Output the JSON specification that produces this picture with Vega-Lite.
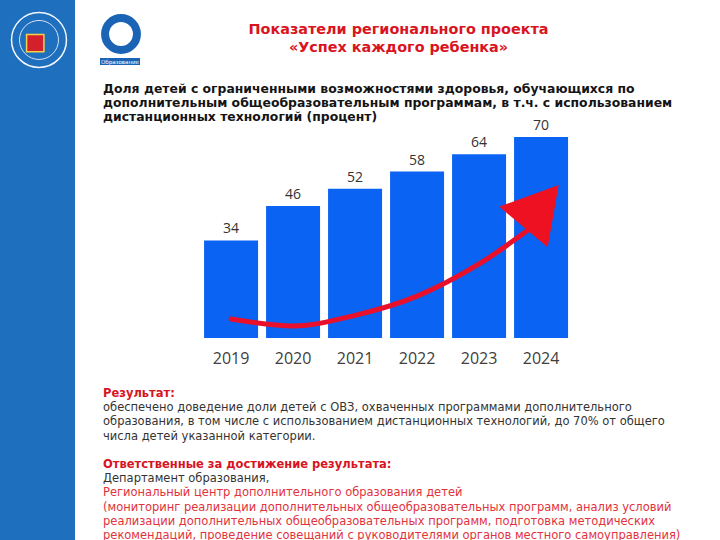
{
  "$schema": "https://vega.github.io/schema/vega-lite/v6.json",
  "padding": 0,
  "background": "white",
  "config": {"view": {"stroke": null}, "font": "DejaVu Sans"},
  "bounds": "flush",
  "spacing": 28,
  "hconcat": [
    {
      "width": 75,
      "height": 540,
      "view": {"fill": "#1f6fbf", "stroke": null},
      "data": {"values": [{"item": "seal"}]},
      "layer": [
        {
          "mark": {"type": "point", "shape": "circle", "size": 3019, "filled": false, "stroke": "white", "strokeWidth": 1.5, "opacity": 0.95},
          "encoding": {
            "x": {"datum": 0.52, "type": "quantitative", "scale": {"domain": [0, 1]}, "axis": null},
            "y": {"datum": 0.074, "type": "quantitative", "scale": {"domain": [0, 1], "reverse": true, "nice": false}, "axis": null}
          }
        },
        {
          "mark": {"type": "point", "shape": "circle", "size": 1520, "filled": false, "stroke": "white", "strokeWidth": 1, "opacity": 0.8},
          "encoding": {
            "x": {"datum": 0.52, "type": "quantitative"},
            "y": {"datum": 0.074, "type": "quantitative"}
          }
        },
        {
          "mark": {"type": "point", "shape": "square", "size": 300, "filled": true, "fill": "#d4202a", "stroke": "#f2d24a", "strokeWidth": 1.5, "opacity": 1},
          "encoding": {
            "x": {"datum": 0.47, "type": "quantitative"},
            "y": {"datum": 0.08, "type": "quantitative"}
          }
        }
      ]
    },
    {
      "bounds": "flush",
      "spacing": 0,
      "vconcat": [
        {
          "width": 600,
          "height": 125,
          "data": {"values": [
            {"part": "title", "line": 0, "text": "Показатели регионального проекта"},
            {"part": "title", "line": 1, "text": "«Успех каждого ребенка»"},
            {"part": "sub", "line": 0, "text": "Доля детей с ограниченными возможностями здоровья, обучающихся по"},
            {"part": "sub", "line": 1, "text": "дополнительным общеобразовательным программам, в т.ч. с использованием"},
            {"part": "sub", "line": 2, "text": "дистанционных технологий (процент)"}
          ]},
          "resolve": {"scale": {"y": "independent"}},
          "layer": [
            {
              "transform": [{"filter": "datum.part === 'title'"}],
              "mark": {"type": "text", "align": "center", "baseline": "middle", "fontSize": 14.4, "fontWeight": "bold", "color": "#d9141e"},
              "encoding": {
                "x": {"datum": 0.4925, "type": "quantitative", "scale": {"domain": [0, 1]}, "axis": null},
                "y": {"field": "line", "type": "quantitative", "scale": {"domain": [-1.667, 5.278], "reverse": true, "nice": false, "zero": false}, "axis": null},
                "text": {"field": "text"}
              }
            },
            {
              "transform": [{"filter": "datum.part === 'sub'"}],
              "mark": {"type": "text", "align": "left", "baseline": "middle", "fontSize": 12.4, "fontWeight": "bold", "color": "#141414"},
              "encoding": {
                "x": {"datum": 0, "type": "quantitative", "scale": {"domain": [0, 1]}, "axis": null},
                "y": {"field": "line", "type": "quantitative", "scale": {"domain": [-6.357, 2.571], "reverse": true, "nice": false, "zero": false}, "axis": null},
                "text": {"field": "text"}
              }
            },
            {
              "data": {"values": [{"item": "logo"}]},
              "mark": {"type": "point", "shape": "circle", "size": 1018, "filled": false, "stroke": "#1a63b5", "strokeWidth": 8, "opacity": 1},
              "encoding": {
                "x": {"datum": 0.03, "type": "quantitative", "scale": {"domain": [0, 1]}, "axis": null},
                "y": {"datum": 0.272, "type": "quantitative", "scale": {"domain": [0, 1], "reverse": true, "nice": false}, "axis": null}
              }
            },
            {
              "data": {"values": [{"item": "logo"}]},
              "mark": {"type": "rect", "color": "#1a63b5"},
              "encoding": {
                "x": {"datum": -0.005, "type": "quantitative", "scale": {"domain": [0, 1]}, "axis": null},
                "x2": {"datum": 0.0617},
                "y": {"datum": 0.464, "type": "quantitative", "scale": {"domain": [0, 1], "reverse": true, "nice": false}, "axis": null},
                "y2": {"datum": 0.52}
              }
            },
            {
              "data": {"values": [{"item": "Образование"}]},
              "mark": {"type": "text", "align": "center", "baseline": "middle", "fontSize": 5.5, "color": "white"},
              "encoding": {
                "x": {"datum": 0.0283, "type": "quantitative", "scale": {"domain": [0, 1]}, "axis": null},
                "y": {"datum": 0.492, "type": "quantitative", "scale": {"domain": [0, 1], "reverse": true, "nice": false}, "axis": null},
                "text": {"field": "item"}
              }
            }
          ]
        },
        {
          "width": 488,
          "height": 213,
          "data": {"values": [
            {"year": "2019", "value": 34},
            {"year": "2020", "value": 46},
            {"year": "2021", "value": 52},
            {"year": "2022", "value": 58},
            {"year": "2023", "value": 64},
            {"year": "2024", "value": 70}
          ]},
          "layer": [
            {
              "mark": {"type": "bar", "color": "#0b63f3"},
              "encoding": {
                "x": {
                  "field": "year", "type": "ordinal",
                  "scale": {"paddingInner": 0.129, "paddingOuter": 1, "align": 0.815},
                  "axis": {"title": null, "domain": false, "ticks": false, "tickSize": 0, "labelPadding": 12, "labelFontSize": 16, "labelFont": "Open Sans", "labelColor": "#404040", "labelAngle": 0, "grid": false}
                },
                "y": {"field": "value", "type": "quantitative", "scale": {"domain": [0, 74.2], "nice": false}, "axis": null}
              }
            },
            {
              "mark": {"type": "text", "baseline": "alphabetic", "dy": -7, "font": "Open Sans", "fontSize": 14, "color": "#333333"},
              "encoding": {
                "x": {"field": "year", "type": "ordinal"},
                "y": {"field": "value", "type": "quantitative"},
                "text": {"field": "value", "type": "quantitative"}
              }
            },
            {
              "data": {"values": [
                {"year": "2019", "v": 6.6},
                {"year": "2020", "v": 4.2},
                {"year": "2021", "v": 7.9},
                {"year": "2022", "v": 14.6},
                {"year": "2023", "v": 25.8},
                {"year": "2024", "v": 41}
              ]},
              "mark": {"type": "line", "color": "#e8102a", "strokeWidth": 5, "interpolate": "monotone", "strokeCap": "round"},
              "encoding": {
                "x": {"field": "year", "type": "ordinal"},
                "y": {"field": "v", "type": "quantitative"}
              }
            },
            {
              "data": {"values": [{"year": "2024", "v": 46}]},
              "mark": {"type": "point", "shape": "triangle-up", "size": 4000, "angle": 40, "filled": true, "color": "#ee1122", "opacity": 1},
              "encoding": {
                "x": {"field": "year", "type": "ordinal"},
                "y": {"field": "v", "type": "quantitative"}
              }
            }
          ]
        },
        {
          "width": 600,
          "height": 202,
          "data": {"values": [
            {"line": 0, "kind": "heading", "text": "Результат:"},
            {"line": 1, "kind": "body", "text": "обеспечено доведение доли детей с ОВЗ, охваченных программами дополнительного"},
            {"line": 2, "kind": "body", "text": "образования, в том числе с использованием дистанционных технологий, до 70% от общего"},
            {"line": 3, "kind": "body", "text": "числа детей указанной категории."},
            {"line": 5, "kind": "heading", "text": "Ответственные за достижение результата:"},
            {"line": 6, "kind": "body", "text": "Департамент образования,"},
            {"line": 7, "kind": "note", "text": "Региональный центр дополнительного образования детей"},
            {"line": 8, "kind": "note", "text": "(мониторинг реализации дополнительных общеобразовательных программ, анализ условий"},
            {"line": 9, "kind": "note", "text": "реализации дополнительных общеобразовательных программ, подготовка методических"},
            {"line": 10, "kind": "note", "text": "рекомендаций, проведение совещаний с руководителями органов местного самоуправления)"}
          ]},
          "encoding": {
            "x": {"datum": 0, "type": "quantitative", "scale": {"domain": [0, 1]}, "axis": null},
            "y": {"field": "line", "type": "quantitative", "scale": {"domain": [-3.944, 10.282], "reverse": true, "nice": false, "zero": false}, "axis": null},
            "color": {"field": "kind", "type": "nominal", "scale": {"domain": ["heading", "body", "note"], "range": ["#d7141f", "#333333", "#e2323c"]}, "legend": null},
            "text": {"field": "text"}
          },
          "layer": [
            {
              "transform": [{"filter": "datum.kind === 'heading'"}],
              "mark": {"type": "text", "align": "left", "baseline": "middle", "fontSize": 11.5, "fontWeight": "bold"}
            },
            {
              "transform": [{"filter": "datum.kind !== 'heading'"}],
              "mark": {"type": "text", "align": "left", "baseline": "middle", "fontSize": 11.5}
            }
          ]
        }
      ]
    }
  ]
}
